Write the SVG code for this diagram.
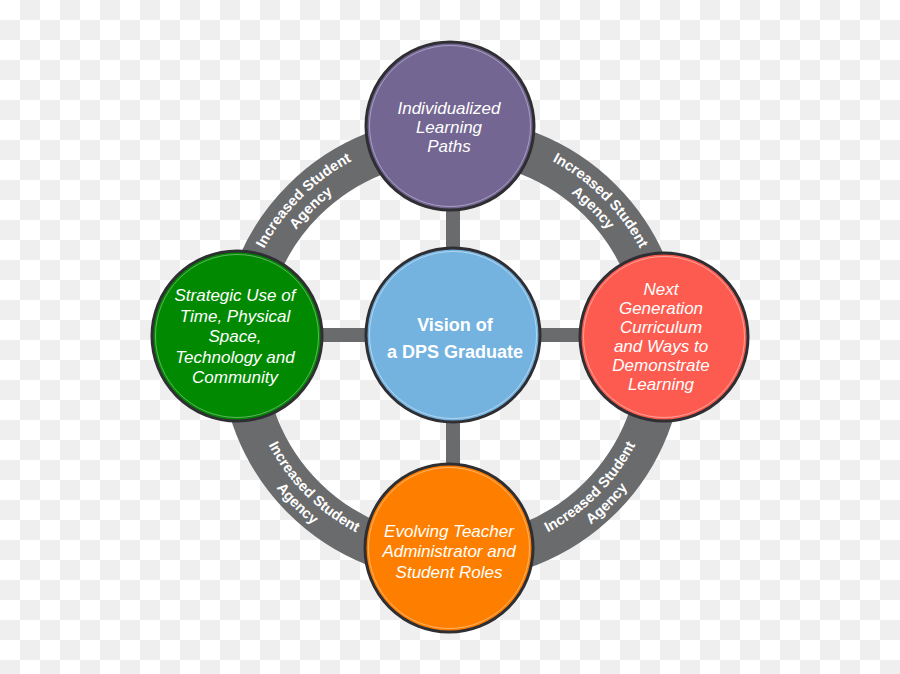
<svg xmlns="http://www.w3.org/2000/svg" xmlns:xlink="http://www.w3.org/1999/xlink" width="900" height="674" viewBox="0 0 900 674">
<defs>
<pattern id="checker" x="0" y="0" width="40" height="40" patternUnits="userSpaceOnUse">
<rect width="40" height="40" fill="#ffffff"/>
<rect x="20" y="0" width="20" height="20" fill="#efefef"/>
<rect x="0" y="20" width="20" height="20" fill="#efefef"/>
</pattern>
<path id="tl1" d="M 239 349 A 213 213 0 0 1 452 136"/>
<path id="tl2" d="M 256 349 A 196 196 0 0 1 452 153"/>
<path id="tr1" d="M 452 136 A 213 213 0 0 1 665 349"/>
<path id="tr2" d="M 452 153 A 196 196 0 0 1 648 349"/>
<path id="bl1" d="M 245 349 A 207 207 0 0 0 452 556"/>
<path id="bl2" d="M 228 349 A 224 224 0 0 0 452 573"/>
<path id="br1" d="M 452 556 A 207 207 0 0 0 659 349"/>
<path id="br2" d="M 452 573 A 224 224 0 0 0 676 349"/>
</defs>
<style>
.ring{fill:none;stroke:#6a6b6d;stroke-width:44}
.spoke{stroke:#6a6b6d;stroke-width:14}
.rl{font-family:"Liberation Sans",Arial,sans-serif;font-size:14.5px;font-weight:bold;fill:#ffffff}
.nt{font-family:"Liberation Sans",Arial,sans-serif;font-size:17px;font-style:italic;fill:#ffffff;text-anchor:middle}
.ct{font-family:"Liberation Sans",Arial,sans-serif;font-size:18px;font-weight:bold;fill:#ffffff;text-anchor:middle}
.edge{stroke:#2e2e33;stroke-width:3}
.inner{fill:none;stroke-width:1}
</style>
<rect width="900" height="674" fill="url(#checker)"/>
<g id="connectors">
<circle class="ring" cx="452" cy="349" r="210"/>
<line class="spoke" x1="453" y1="200" x2="453" y2="470"/>
<line class="spoke" x1="310" y1="335" x2="595" y2="335"/>
<text class="rl"><textPath xlink:href="#tl1" startOffset="50%" text-anchor="middle">Increased Student</textPath></text>
<text class="rl"><textPath xlink:href="#tl2" startOffset="50%" text-anchor="middle">Agency</textPath></text>
<text class="rl"><textPath xlink:href="#tr1" startOffset="50%" text-anchor="middle">Increased Student</textPath></text>
<text class="rl"><textPath xlink:href="#tr2" startOffset="50%" text-anchor="middle">Agency</textPath></text>
<text class="rl"><textPath xlink:href="#bl1" startOffset="50%" text-anchor="middle">Increased Student</textPath></text>
<text class="rl"><textPath xlink:href="#bl2" startOffset="50%" text-anchor="middle">Agency</textPath></text>
<text class="rl"><textPath xlink:href="#br1" startOffset="50%" text-anchor="middle">Increased Student</textPath></text>
<text class="rl"><textPath xlink:href="#br2" startOffset="50%" text-anchor="middle">Agency</textPath></text>
</g>
<g id="node-top">
<circle class="edge" cx="450" cy="126" r="84" fill="#736692"/>
<circle class="inner" cx="450" cy="126" r="80.5" stroke="#a79fc0"/>
<text class="nt" x="449" y="114">Individualized</text>
<text class="nt" x="449" y="133">Learning</text>
<text class="nt" x="449" y="152">Paths</text>
</g>
<g id="node-left">
<circle class="edge" cx="237" cy="336" r="85" fill="#018a01"/>
<circle class="inner" cx="237" cy="336" r="81.5" stroke="#5fb35f"/>
<text class="nt" x="235" y="301">Strategic Use of</text>
<text class="nt" x="235" y="321.5">Time, Physical</text>
<text class="nt" x="235" y="342">Space,</text>
<text class="nt" x="235" y="362.5">Technology and</text>
<text class="nt" x="235" y="383">Community</text>
</g>
<g id="node-right">
<circle class="edge" cx="664" cy="337" r="84" fill="#fd5b4f"/>
<circle class="inner" cx="664" cy="337" r="80.5" stroke="#ffa39b"/>
<text class="nt" x="661" y="295">Next</text>
<text class="nt" x="661" y="314">Generation</text>
<text class="nt" x="661" y="333">Curriculum</text>
<text class="nt" x="661" y="352">and Ways to</text>
<text class="nt" x="661" y="371">Demonstrate</text>
<text class="nt" x="661" y="389.5">Learning</text>
</g>
<g id="node-bottom">
<circle class="edge" cx="449" cy="548" r="84" fill="#fe7f00"/>
<circle class="inner" cx="449" cy="548" r="80.5" stroke="#ffb36b"/>
<text class="nt" x="449" y="537">Evolving Teacher</text>
<text class="nt" x="449" y="557">Administrator and</text>
<text class="nt" x="449" y="577.5">Student Roles</text>
</g>
<g id="node-center">
<circle class="edge" cx="453" cy="335" r="87" fill="#74b3df"/>
<circle class="inner" cx="453" cy="335" r="83.5" stroke="#b4d6ef"/>
<text class="ct" x="455" y="331">Vision of</text>
<text class="ct" x="455" y="358">a DPS Graduate</text>
</g>
</svg>
